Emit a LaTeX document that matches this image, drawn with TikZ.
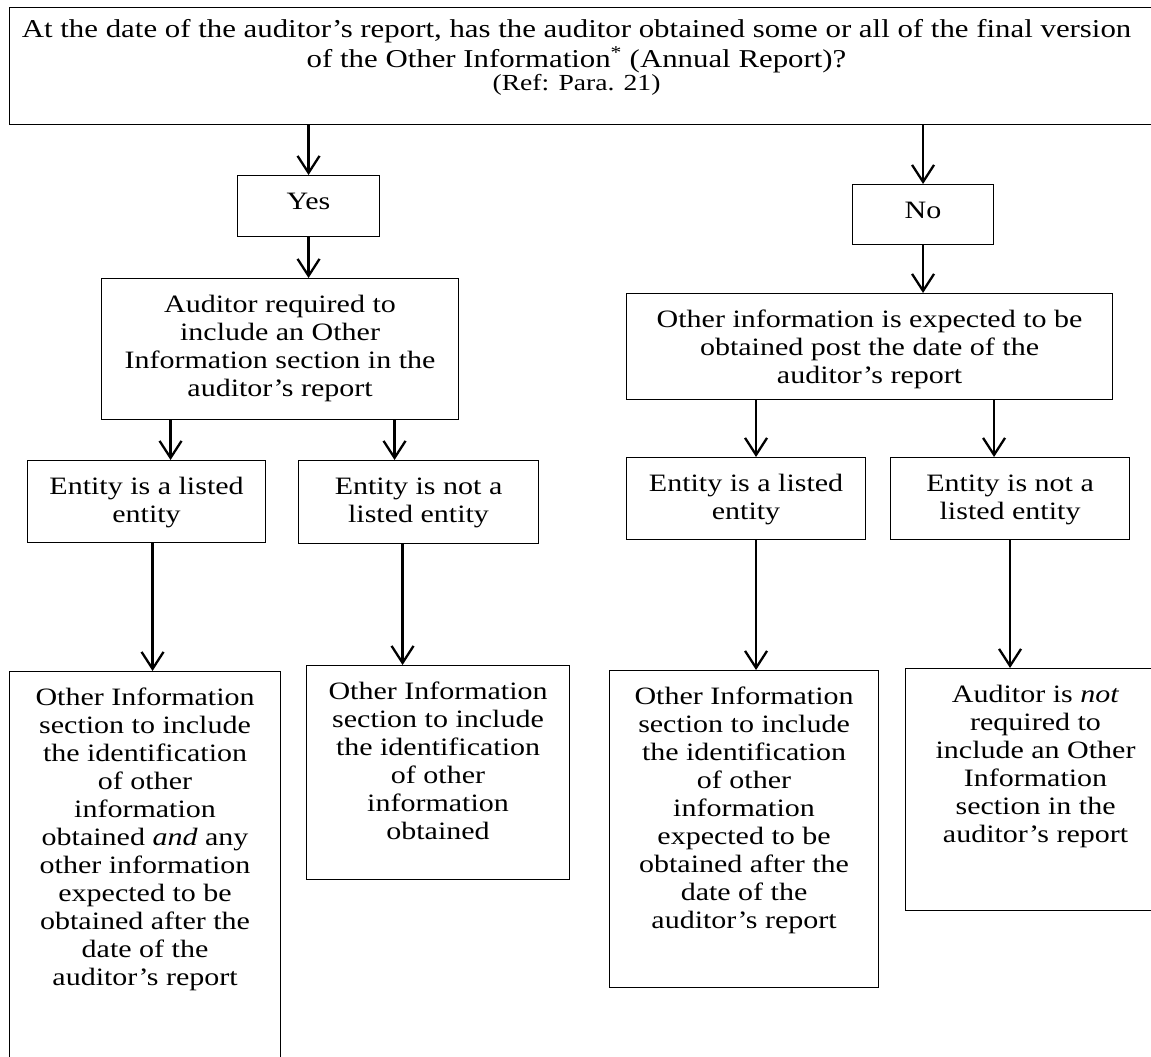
\documentclass[tikz,border=0pt]{standalone}
\usepackage{fontspec}
\setmainfont{Liberation Serif}[FakeStretch=1.2,ItalicFont={Liberation Serif Italic}]
\usetikzlibrary{arrows.meta}
\newcommand{\boxtxt}[3]{\parbox[t][#2pt][t]{#1pt}{\centering\vspace*{14.4pt}\strut#3}}

\begin{document}
\begin{tikzpicture}[x=1pt,y=-1pt,
  every node/.style={font=\fontsize{25}{28}\selectfont},
  box/.style={draw,line width=1.1pt,anchor=north west,inner sep=0pt},
  arr/.style={line width=2.3pt,-{Straight Barb[length=17pt,width=22pt]}}]
\clip (0,0) rectangle (1151,1057);

\node[box] (q) at (9,7) {\parbox[t][117pt][t]{1134pt}{\centering\fontsize{25.7}{26}\selectfont\vspace*{11.8pt}\strut At the date of the auditor’s report, has the auditor obtained some or all of the final version\\ of the Other Information\textsuperscript{*} (Annual Report)?\\[-3pt] {\fontsize{23}{22}\selectfont (Ref: Para. 21)}}\hspace*{17pt}};

\node[box] (yes) at (237,175) {\boxtxt{142}{61}{Yes}};
\node[box] (no) at (852,184) {\boxtxt{141}{60}{No}};

\node[box] (aud) at (101,278) {\boxtxt{357}{141}{Auditor required to\\ include an Other\\ Information section in the\\ auditor’s report}};
\node[box] (oth) at (626,293) {\boxtxt{486}{106}{Other information is expected to be\\ obtained post the date of the\\ auditor’s report}};

\node[box] (entA) at (27,460) {\boxtxt{238}{82}{Entity is a listed\\ entity}};
\node[box] (entB) at (298,460) {\boxtxt{240}{83}{Entity is not a\\ listed entity}};
\node[box] (entC) at (626,457) {\boxtxt{239}{82}{Entity is a listed\\ entity}};
\node[box] (entD) at (890,457) {\boxtxt{239}{82}{Entity is not a\\ listed entity}};

\node[box] (outA) at (9,671) {\boxtxt{271}{404}{Other Information\\ section to include\\ the identification\\ of other\\ information\\ obtained \emph{and} any\\ other information\\ expected to be\\ obtained after the\\ date of the\\ auditor’s report}};
\node[box] (outB) at (306,665) {\boxtxt{263}{214}{Other Information\\ section to include\\ the identification\\ of other\\ information\\ obtained}};
\node[box] (outC) at (609,670) {\boxtxt{269}{317}{Other Information\\ section to include\\ the identification\\ of other\\ information\\ expected to be\\ obtained after the\\ date of the\\ auditor’s report}};
\node[box] (outD) at (905,668) {\boxtxt{260}{242}{Auditor is \emph{not}\\ required to\\ include an Other\\ Information\\ section in the\\ auditor’s report}};

\draw[arr] (q.south -| yes.north) -- (yes.north);
\draw[arr] (yes.south) -- (yes.south |- aud.north);
\draw[arr] (q.south -| no.north) -- (no.north);
\draw[arr] (no.south) -- (no.south |- oth.north);

\draw[arr] ([xshift=24pt]entA.north |- aud.south) -- ([xshift=24pt]entA.north);
\draw[arr] ([xshift=-24pt]entB.north |- aud.south) -- ([xshift=-24pt]entB.north);
\draw[arr] ([xshift=10pt]entC.north |- oth.south) -- ([xshift=10pt]entC.north);
\draw[arr] ([xshift=-16pt]entD.north |- oth.south) -- ([xshift=-16pt]entD.north);

\draw[arr] ([xshift=6pt]entA.south) -- ([xshift=6pt]entA.south |- outA.north);
\draw[arr] ([xshift=-16pt]entB.south) -- ([xshift=-16pt]entB.south |- outB.north);
\draw[arr] ([xshift=10pt]entC.south) -- ([xshift=10pt]entC.south |- outC.north);
\draw[arr] (entD.south) -- (entD.south |- outD.north);
\end{tikzpicture}
\end{document}
